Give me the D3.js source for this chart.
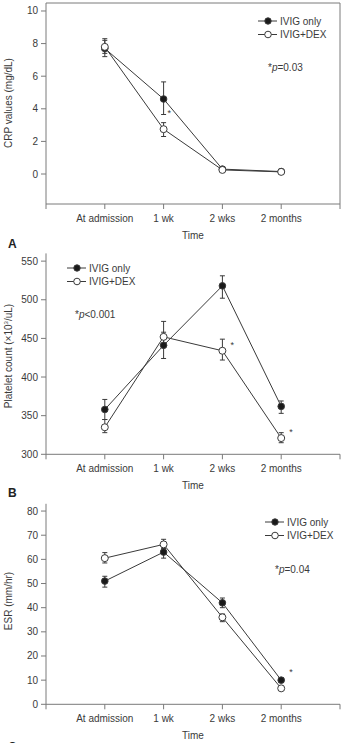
<!DOCTYPE html>
<html>
<head>
<meta charset="utf-8">
<script src="https://cdn.jsdelivr.net/npm/d3@7"></script>
<style>
  body { margin: 0; background: #fff; }
  svg { display: block; font-family: "Liberation Sans Narrow", "Arial Narrow", "Liberation Sans", sans-serif; }
</style>
</head>
<body>
<div id="chart"></div>
<script>
const timepoints = ["At admission", "1 wk", "2 wks", "2 months"];
const seriesNames = ["IVIG only", "IVIG+DEX"];

// CRP (mg/dL): [mean, low, high]
const crpIvig = [[7.7, 7.2, 8.3], [4.6, 3.65, 5.65], [0.3, 0.25, 0.35], [0.15, 0.12, 0.18]];
const crpDex  = [[7.8, 7.4, 8.2], [2.75, 2.3, 3.15], [0.25, 0.2, 0.3], [0.13, 0.1, 0.16]];
const crpTicks = [0, 2, 4, 6, 8, 10];

// Platelet count (x10^3/uL)
const pltIvig = [[358, 345, 371], [441, 424, 458], [518, 502, 531], [362, 353, 369]];
const pltDex  = [[335, 328, 345], [452, 440, 472], [434, 422, 449], [321, 315, 328]];
const pltTicks = [300, 350, 400, 450, 500, 550];

// ESR (mm/hr)
const esrIvig = [[51, 48.5, 53], [63, 60.5, 65], [42, 40, 44], [10, 9, 11]];
const esrDex  = [[60.5, 58.5, 62.8], [66.2, 64.5, 68.3], [36, 34.2, 37.4], [6.6, 6, 7.2]];
const esrTicks = [0, 10, 20, 30, 40, 50, 60, 70, 80];

const W = 343, H = 743;
const ink = "#3a3a3a";
const axisCol = "#7a7a7a";

const svg = d3.select("#chart").append("svg")
  .attr("width", W)
  .attr("height", H);

const x = d3.scaleLinear().domain([0, 5]).range([46, 340]);

function panel(opts) {
  const g = svg.append("g");
  const y = d3.scaleLinear().domain(opts.domain).range(opts.range);
  const yBase = opts.range[0], yTop = opts.range[1];

  // y axis line
  g.append("line")
    .attr("x1", x(0)).attr("x2", x(0))
    .attr("y1", yBase).attr("y2", yTop)
    .attr("stroke", axisCol).attr("stroke-width", 1);

  // x axis line
  g.append("line")
    .attr("x1", x(0)).attr("x2", x(5))
    .attr("y1", yBase).attr("y2", yBase)
    .attr("stroke", axisCol).attr("stroke-width", 1);

  if (opts.box) {
    g.append("line")
      .attr("x1", x(0)).attr("x2", x(5))
      .attr("y1", yTop).attr("y2", yTop)
      .attr("stroke", axisCol);
    g.append("line")
      .attr("x1", x(5)).attr("x2", x(5))
      .attr("y1", yTop).attr("y2", yBase)
      .attr("stroke", axisCol);
  }

  // x ticks
  g.selectAll(".xt").data(d3.range(0, 6)).enter().append("line")
    .attr("x1", d => x(d)).attr("x2", d => x(d))
    .attr("y1", yBase).attr("y2", yBase + 5)
    .attr("stroke", axisCol);

  g.selectAll(".xl").data(timepoints).enter().append("text")
    .attr("x", (d, i) => x(i + 1))
    .attr("y", yBase + 18)
    .attr("text-anchor", "middle")
    .attr("font-size", 10)
    .attr("fill", ink)
    .text(d => d);

  g.append("text")
    .attr("x", x(2.5))
    .attr("y", yBase + 35)
    .attr("text-anchor", "middle")
    .attr("font-size", 10)
    .attr("fill", ink)
    .text("Time");

  // y ticks
  g.selectAll(".yt").data(opts.ticks).enter().append("line")
    .attr("x1", x(0) - 5).attr("x2", x(0))
    .attr("y1", d => y(d)).attr("y2", d => y(d))
    .attr("stroke", axisCol);

  g.selectAll(".yl").data(opts.ticks).enter().append("text")
    .attr("x", x(0) - 8)
    .attr("y", d => y(d))
    .attr("dy", "0.35em")
    .attr("text-anchor", "end")
    .attr("font-size", 10)
    .attr("fill", ink)
    .text(d => d);

  // y title
  const yt = g.append("text")
    .attr("transform", `translate(12,${opts.titleY}) rotate(-90)`)
    .attr("text-anchor", "middle")
    .attr("font-size", 10)
    .attr("fill", ink);
  if (opts.titleParts) {
    opts.titleParts.forEach(p => {
      const t = yt.append("tspan").text(p.t);
      if (p.sup) t.attr("font-size", 6).attr("dy", -4);
      if (p.down) t.attr("dy", 4);
    });
  } else {
    yt.text(opts.title);
  }

  // lines
  const line = d3.line().x((d, i) => x(i + 1)).y(d => y(d[0]));
  [opts.a, opts.b].forEach(s => {
    g.append("path")
      .datum(s)
      .attr("d", line)
      .attr("fill", "none")
      .attr("stroke", ink)
      .attr("stroke-width", 1);
  });

  // error bars
  [opts.a, opts.b].forEach(s => {
    const eb = g.append("g").selectAll("g").data(s).enter().append("g")
      .attr("stroke", ink).attr("stroke-width", 1);
    eb.append("line")
      .attr("x1", (d, i) => x(i + 1)).attr("x2", (d, i) => x(i + 1))
      .attr("y1", d => y(d[1])).attr("y2", d => y(d[2]));
    eb.append("line")
      .attr("x1", (d, i) => x(i + 1) - 2.5).attr("x2", (d, i) => x(i + 1) + 2.5)
      .attr("y1", d => y(d[1])).attr("y2", d => y(d[1]));
    eb.append("line")
      .attr("x1", (d, i) => x(i + 1) - 2.5).attr("x2", (d, i) => x(i + 1) + 2.5)
      .attr("y1", d => y(d[2])).attr("y2", d => y(d[2]));
  });

  // markers
  g.selectAll(".ma").data(opts.a).enter().append("circle")
    .attr("cx", (d, i) => x(i + 1)).attr("cy", d => y(d[0]))
    .attr("r", 3.3)
    .attr("fill", "#1a1a1a")
    .attr("stroke", ink);
  g.selectAll(".mb").data(opts.b).enter().append("circle")
    .attr("cx", (d, i) => x(i + 1)).attr("cy", d => y(d[0]))
    .attr("r", 3.5)
    .attr("fill", "#fff")
    .attr("stroke", ink)
    .attr("stroke-width", 1);

  // legend
  const lg = g.append("g");
  seriesNames.forEach((name, i) => {
    const ly = opts.legend[1] + i * 13.5;
    const lx = opts.legend[0];
    lg.append("line")
      .attr("x1", lx).attr("x2", lx + 19)
      .attr("y1", ly).attr("y2", ly)
      .attr("stroke", ink);
    lg.append("circle")
      .attr("cx", lx + 10).attr("cy", ly)
      .attr("r", i === 0 ? 3.2 : 3.3)
      .attr("fill", i === 0 ? "#1a1a1a" : "#fff")
      .attr("stroke", ink);
    lg.append("text")
      .attr("x", lx + 22).attr("y", ly)
      .attr("dy", "0.35em")
      .attr("font-size", 10)
      .attr("fill", ink)
      .text(name);
  });

  // p-value
  const pt = g.append("text")
    .attr("x", opts.pPos[0]).attr("y", opts.pPos[1])
    .attr("dy", "0.35em")
    .attr("font-size", 10)
    .attr("fill", ink);
  pt.append("tspan").text("*");
  pt.append("tspan").attr("font-style", "italic").text("p");
  pt.append("tspan").text(opts.pText);

  // asterisks
  opts.stars.forEach(s => {
    g.append("text")
      .attr("x", x(s[0] + 1) + s[2])
      .attr("y", y(s[1]))
      .attr("dy", "0.6em")
      .attr("font-size", 9)
      .attr("fill", ink)
      .text("*");
  });

  // panel letter
  g.append("text")
    .attr("x", 8).attr("y", opts.letterY)
    .attr("font-size", 12)
    .attr("font-weight", "bold")
    .attr("fill", "#222")
    .attr("font-family", "Liberation Sans, Arial, sans-serif")
    .text(opts.letter);
}

panel({
  domain: [-1.84, 10.49], range: [204, 3], ticks: crpTicks, box: true,
  title: "CRP values (mg/dL)", titleY: 103,
  a: crpIvig, b: crpDex,
  legend: [258, 21], pPos: [268, 67], pText: "=0.03",
  stars: [[1, 3.9, 4]],
  letter: "A", letterY: 248
});

panel({
  domain: [300, 560], range: [454.3, 253.4], ticks: pltTicks, box: false,
  titleParts: [{ t: "Platelet count (×10" }, { t: "3", sup: true }, { t: "/uL)", down: true }], titleY: 356,
  a: pltIvig, b: pltDex,
  legend: [67, 268], pPos: [75, 314], pText: "<0.001",
  stars: [[2, 445, 8], [3, 332, 8]],
  letter: "B", letterY: 497
});

panel({
  domain: [0, 83], range: [704.3, 503.8], ticks: esrTicks, box: false,
  title: "ESR (mm/hr)", titleY: 601,
  a: esrIvig, b: esrDex,
  legend: [265, 522], pPos: [275, 569], pText: "=0.04",
  stars: [[3, 14.5, 8]],
  letter: "C", letterY: 751
});
</script>
</body>
</html>
